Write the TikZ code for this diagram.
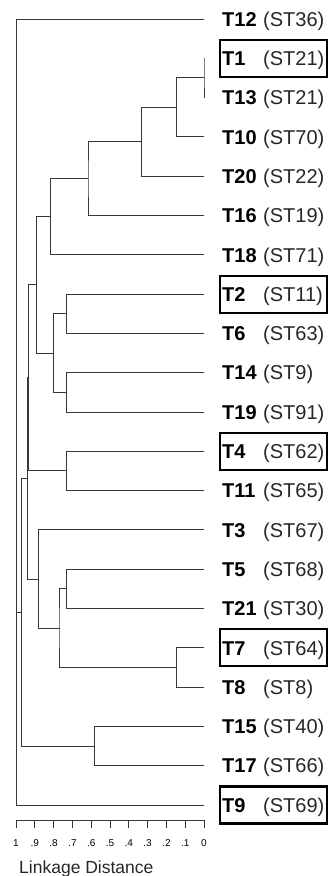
\documentclass[tikz,border=0pt]{standalone}
\usepackage{fontspec}
\setmainfont{Liberation Sans}
\usetikzlibrary{calc}
\definecolor{linegray}{RGB}{55,55,55}

\newcommand{\dlink}[4]{%
  \path let \p1=(#3), \p2=(#4) in coordinate (#1) at ({204-188*#2},{0.5*(\y1+\y2)});
  \draw [branch] (#3) -| (#1) |- (#4);}

\begin{document}
\begin{tikzpicture}[x=1pt, y=-1pt,
    branch/.style={draw=linegray, line width=1pt},
    tname/.style={anchor=base west, inner sep=0pt, font=\fontsize{20}{23}\selectfont\bfseries},
    stname/.style={anchor=base west, inner sep=0pt, font=\fontsize{20}{23}\selectfont, text=black!85},
    hibox/.style={draw=black, line width=2.2pt, minimum width=107pt, minimum height=37pt, inner sep=0pt},
    ticklabel/.style={anchor=base, inner sep=0pt, font=\fontsize{10}{12}\selectfont},
    axistitle/.style={anchor=base west, inner sep=0pt, font=\fontsize{17.5}{20}\selectfont, text=black!85}
  ]
  \useasboundingbox (0,0) rectangle (327,876);
  \foreach \t/\s [count=\i from 0] in {12/36,1/21,13/21,10/70,20/22,16/19,18/71,2/11,6/63,14/9,19/91,
      4/62,11/65,3/67,5/68,21/30,7/64,8/8,15/40,17/66,9/69}{
    \coordinate (l\t) at (204,{19+39.3*\i});
    \node [tname] (t\t) at (222,{26.2+39.3*\i}) {T\t};
    \node [stname] (s\t) at (263,{26.2+39.3*\i}) {(ST\s)};
  }
  \foreach \t in {1,2,4,7,9}
    \node [hibox] (box\t) at ($(l\t)+(69.5,0)$) {};

  \dlink{a1}{0}{l1}{l13}
  \dlink{a2}{0.144}{a1}{l10}
  \dlink{a3}{0.335}{a2}{l20}
  \dlink{a4}{0.617}{a3}{l16}
  \dlink{a5}{0.819}{a4}{l18}
  \dlink{b1}{0.729}{l2}{l6}
  \dlink{b2}{0.729}{l14}{l19}
  \dlink{b3}{0.803}{b1}{b2}
  \dlink{ab}{0.891}{a5}{b3}
  \dlink{c1}{0.729}{l4}{l11}
  \dlink{j1}{0.934}{ab}{c1}
  \dlink{d1}{0.729}{l5}{l21}
  \dlink{d2}{0.144}{l7}{l8}
  \dlink{d3}{0.766}{d1}{d2}
  \dlink{d4}{0.878}{l3}{d3}
  \dlink{j2}{0.939}{j1}{d4}
  \dlink{e1}{0.58}{l15}{l17}
  \dlink{j3}{0.973}{j2}{e1}
  \dlink{j4}{0.996}{j3}{l9}
  \dlink{j5}{0.998}{l12}{j4}

  \coordinate (ax0) at (16,820);
  \coordinate (ax1) at (204,820);
  \draw [branch] (ax0) -- (ax1);
  \foreach \lab [count=\k from 0] in {1,.9,.8,.7,.6,.5,.4,.3,.2,.1,0}{
    \draw [branch] ($(ax0)+(18.8*\k,0)$) -- ++(0,8);
    \node [ticklabel] (tick\k) at ($(ax0)+(18.8*\k,26.7)$) {\lab};
  }
  \node [axistitle] (title) at (19,873) {Linkage Distance};
\end{tikzpicture}
\end{document}
